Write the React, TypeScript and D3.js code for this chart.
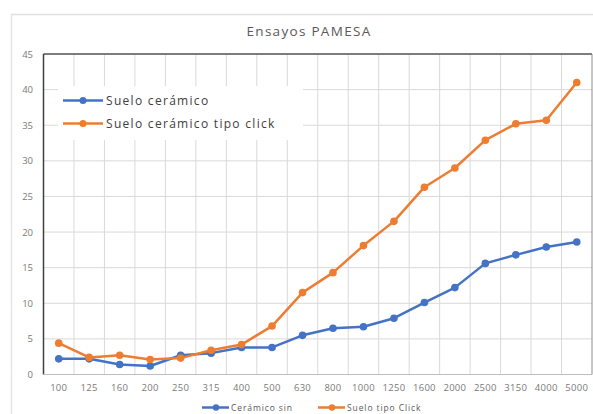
import React from "react";
import * as d3 from "d3";

const categories = ["100","125","160","200","250","315","400","500","630","800","1000","1250","1600","2000","2500","3150","4000","5000"];
const sueloCeramico = [2.2,2.2,1.4,1.2,2.7,3.0,3.8,3.8,5.5,6.5,6.7,7.9,10.1,12.2,15.6,16.8,17.9,18.6];
const sueloClick = [4.4,2.4,2.7,2.1,2.3,3.4,4.2,6.8,11.5,14.3,18.1,21.5,26.3,29.0,32.9,35.2,35.7,41.0];
const yTicks = [0,5,10,15,20,25,30,35,40,45];
const title = "Ensayos PAMESA";
const legendTop = ["Suelo cerámico", "Suelo cerámico tipo click"];
const legendBottom = ["Cerámico sin", "Suelo tipo Click"];

const BLUE = "#4472C4";
const ORANGE = "#ED7D31";
const FONT = "'Open Sans', 'DejaVu Sans', sans-serif";

export default function App() {
  const W = 593, H = 414;
  const left = 43.5, right = 592, top = 54, bottom = 374.5;
  const x = d3.scaleBand().domain(categories).range([left, right]);
  const y = d3.scaleLinear().domain([0, 45]).range([bottom, top]);
  const cx = (c: string) => (x(c) as number) + x.bandwidth() / 2;
  const line = d3.line<number>().x((_, i) => cx(categories[i])).y(d => y(d));
  const series = [
    { vals: sueloCeramico, color: BLUE },
    { vals: sueloClick, color: ORANGE },
  ];
  return (
    <svg width={W} height={H} style={{ position: "absolute", left: 0, top: 0, background: "#fff" }}>
      <rect x={0} y={0} width={W} height={H} fill="#fff" />
      <line x1={11} x2={W} y1={14.5} y2={14.5} stroke="#e0e0e0" strokeWidth={1.5} />
      <line x1={11.5} x2={11.5} y1={14} y2={H} stroke="#e6e6e6" strokeWidth={1.5} />
      <text x={309} y={36} textAnchor="middle" fontFamily={FONT} fontSize={13.5} letterSpacing={1.3} fill="#595959">{title}</text>
      {yTicks.map(t => (
        <g key={t}>
          <line x1={left} x2={right} y1={y(t)} y2={y(t)} stroke="#d9d9d9" strokeWidth={1} />
          <text x={33} y={y(t) + 3.5} textAnchor="end" fontFamily={FONT} fontSize={9.5} fill="#7a7a7a">{t}</text>
        </g>
      ))}
      {categories.map((c, i) => (
        <g key={c}>
          {i > 0 && <line x1={x(c) as number} x2={x(c) as number} y1={top} y2={bottom} stroke="#d9d9d9" strokeWidth={1} />}
          <text x={cx(c)} y={391} textAnchor="middle" fontFamily={FONT} fontSize={9.5} letterSpacing={0.3} fill="#7a7a7a">{c}</text>
        </g>
      ))}
      <line x1={left} x2={right} y1={top} y2={top} stroke="#595959" strokeWidth={1.3} />
      <line x1={left} x2={left} y1={top} y2={bottom} stroke="#404040" strokeWidth={1.5} />
      <line x1={left} x2={right} y1={bottom} y2={bottom} stroke="#bfbfbf" strokeWidth={1} />
      <line x1={right} x2={right} y1={top} y2={bottom} stroke="#8c8c8c" strokeWidth={1} />
      <rect x={58} y={86} width={245} height={54} fill="#fff" />
      {legendTop.map((t, i) => {
        const ly = 100.5 + i * 23;
        const col = i === 0 ? BLUE : ORANGE;
        return (
          <g key={t}>
            <line x1={63} x2={103} y1={ly} y2={ly} stroke={col} strokeWidth={2.5} />
            <circle cx={83} cy={ly} r={3.5} fill={col} />
            <text x={106} y={ly + 4} fontFamily={FONT} fontSize={12} letterSpacing={1.3} fill="#404040">{t}</text>
          </g>
        );
      })}
      {series.map((s, k) => (
        <g key={k}>
          <path d={line(s.vals) || ""} fill="none" stroke={s.color} strokeWidth={2.5} strokeLinejoin="round" />
          {s.vals.map((v, i) => (
            <circle key={i} cx={cx(categories[i])} cy={y(v)} r={3.8} fill={s.color} />
          ))}
        </g>
      ))}
      {legendBottom.map((t, i) => {
        const lx = i === 0 ? 202 : 318;
        const col = i === 0 ? BLUE : ORANGE;
        return (
          <g key={t}>
            <line x1={lx} x2={lx + 27} y1={407.5} y2={407.5} stroke={col} strokeWidth={2.5} />
            <circle cx={lx + 14} cy={407.5} r={3.2} fill={col} />
            <text x={lx + 29} y={410.5} fontFamily={FONT} fontSize={8.5} letterSpacing={0.9} fill="#595959">{t}</text>
          </g>
        );
      })}
    </svg>
  );
}
